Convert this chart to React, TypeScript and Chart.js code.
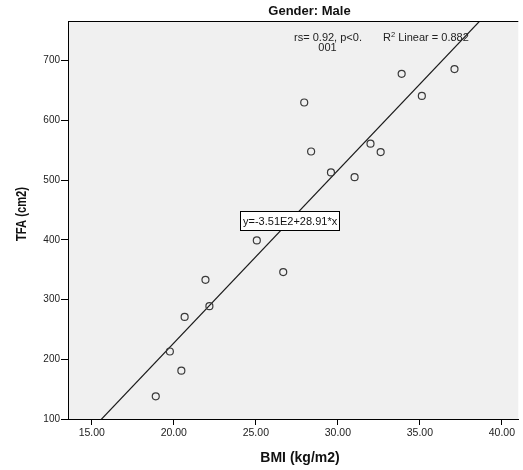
import React, { useEffect, useRef } from "react";
import { Chart, registerables } from "chart.js";

Chart.register(...registerables);

// ---- data ----
const bmi = [18.9, 19.76, 20.46, 20.66, 21.93, 22.17, 25.06, 26.67, 27.95, 28.37, 29.58, 31.02, 31.99, 32.61, 33.89, 35.12, 37.11];
const tfa = [138, 213, 181, 271, 333, 289, 399, 346, 630, 548, 513, 505, 561, 547, 678, 641, 686];
const xTicks = [15, 20, 25, 30, 35, 40];
const yTicks = [100, 200, 300, 400, 500, 600, 700];
const fitIntercept = -351;
const fitSlope = 28.91;
const xRange = [13.55, 41.0];
const yRange = [100, 766.5];

const titleText = "Gender: Male";
const xTitle = "BMI (kg/m2)";
const yTitle = "TFA (cm2)";
const rsLine1 = "rs= 0.92, p<0.";
const rsLine2 = "001";
const r2Label = "R";
const r2Sup = "2";
const r2Rest = " Linear = 0.882";
const equationText = "y=-3.51E2+28.91*x";

const FONT = '"Liberation Sans", Arial, Helvetica, sans-serif';

const decorPlugin = {
  id: "decor",
  beforeDraw(chart: any) {
    const { ctx, chartArea: a } = chart;
    ctx.save();
    ctx.fillStyle = "#ffffff";
    ctx.fillRect(0, 0, chart.width, chart.height);
    ctx.fillStyle = "#F0F0F0";
    ctx.fillRect(a.left, a.top, a.right - a.left, a.bottom - a.top);
    ctx.restore();
  },
  afterDatasetsDraw(chart: any) {
    const { ctx, chartArea: a } = chart;
    ctx.save();
    // top frame line
    ctx.strokeStyle = "#000";
    ctx.lineWidth = 1;
    ctx.beginPath();
    ctx.moveTo(a.left, a.top + 0.5);
    ctx.lineTo(a.right, a.top + 0.5);
    ctx.stroke();

    // equation box
    ctx.font = `11px ${FONT}`;
    const w = ctx.measureText(equationText).width;
    const bx = 240;
    const by = 211;
    const bw = Math.round(w + 5);
    const bh = 19;
    ctx.fillStyle = "#fff";
    ctx.fillRect(bx, by, bw + 1, bh + 1);
    ctx.strokeStyle = "#000";
    ctx.strokeRect(bx + 0.5, by + 0.5, bw, bh);
    ctx.fillStyle = "#111";
    ctx.textAlign = "left";
    ctx.textBaseline = "middle";
    ctx.fillText(equationText, bx + 3, by + bh / 2 + 1);
    ctx.restore();
  },
  afterDraw(chart: any) {
    const { ctx } = chart;
    ctx.save();
    ctx.fillStyle = "#111";
    ctx.textBaseline = "middle";

    // title
    ctx.font = `bold 13px ${FONT}`;
    ctx.textAlign = "center";
    ctx.fillText(titleText, 309.5, 11);

    // rs annotation
    ctx.font = `11px ${FONT}`;
    ctx.fillStyle = "#222";
    ctx.fillText(rsLine1, 328, 37.5);
    ctx.fillText(rsLine2, 327.5, 48);

    // R2 annotation
    ctx.textAlign = "left";
    let x = 383;
    ctx.fillText(r2Label, x, 38);
    x += ctx.measureText(r2Label).width;
    ctx.font = `7.5px ${FONT}`;
    ctx.fillText(r2Sup, x, 35);
    x += ctx.measureText(r2Sup).width;
    ctx.font = `11px ${FONT}`;
    ctx.fillText(r2Rest, x, 38);

    // x axis title
    ctx.fillStyle = "#111";
    ctx.font = `bold 14px ${FONT}`;
    ctx.textAlign = "center";
    ctx.fillText(xTitle, 300, 458);

    // y axis title
    ctx.translate(22.5, 214);
    ctx.rotate(-Math.PI / 2);
    ctx.scale(0.8, 1);
    ctx.fillText(yTitle, 0, 0);
    ctx.restore();
  },
};

export default function App() {
  const ref = useRef<HTMLCanvasElement | null>(null);

  useEffect(() => {
    if (!ref.current) return;
    const fitData = xRange.map((xv) => ({ x: xv, y: fitIntercept + fitSlope * xv }));
    const chart = new Chart(ref.current, {
      type: "scatter",
      data: {
        datasets: [
          {
            type: "scatter",
            label: "TFA",
            data: bmi.map((b, i) => ({ x: b, y: tfa[i] })),
            pointStyle: "circle",
            pointRadius: 3.5,
            pointHoverRadius: 3.5,
            pointBorderWidth: 1.2,
            pointBorderColor: "#3a3a3a",
            pointBackgroundColor: "rgba(0,0,0,0)",
          },
          {
            type: "line",
            label: "Fit",
            data: fitData,
            borderColor: "#1a1a1a",
            borderWidth: 1.2,
            pointRadius: 0,
            fill: false,
            tension: 0,
          } as any,
        ],
      },
      options: {
        responsive: false,
        animation: false,
        events: [],
        layout: { padding: { top: 21, left: 0, right: 0, bottom: 0 } },
        plugins: {
          legend: { display: false },
          title: { display: false },
          tooltip: { enabled: false },
        },
        scales: {
          x: {
            type: "linear",
            min: xRange[0],
            max: xRange[1],
            afterBuildTicks: (scale: any) => {
              scale.ticks = xTicks.map((v) => ({ value: v }));
            },
            afterFit: (scale: any) => {
              scale.height = 51;
            },
            grid: {
              display: true,
              drawOnChartArea: false,
              drawTicks: true,
              tickLength: 6,
              tickColor: "#000",
            },
            border: { display: true, color: "#000", width: 1 },
            ticks: {
              padding: 2,
              maxRotation: 0,
              autoSkip: false,
              color: "#222",
              font: { family: FONT, size: 10.5 },
              callback: (v: any) => Number(v).toFixed(2),
            },
          },
          y: {
            type: "linear",
            min: yRange[0],
            max: yRange[1],
            afterBuildTicks: (scale: any) => {
              scale.ticks = yTicks.map((v) => ({ value: v }));
            },
            afterFit: (scale: any) => {
              scale.width = 68;
            },
            grid: {
              display: true,
              drawOnChartArea: false,
              drawTicks: true,
              tickLength: 7,
              tickColor: "#000",
            },
            border: { display: true, color: "#000", width: 1 },
            ticks: {
              padding: 1,
              autoSkip: false,
              color: "#222",
              font: { family: FONT, size: 10 },
              callback: (v: any) => String(v),
            },
          },
        },
      },
      plugins: [decorPlugin],
    });
    return () => chart.destroy();
  }, []);

  return (
    <div style={{ position: "fixed", left: 0, top: 0, width: 523, height: 470, overflow: "hidden", background: "#fff" }}>
      <canvas ref={ref} width={523} height={470} style={{ display: "block" }} />
    </div>
  );
}
